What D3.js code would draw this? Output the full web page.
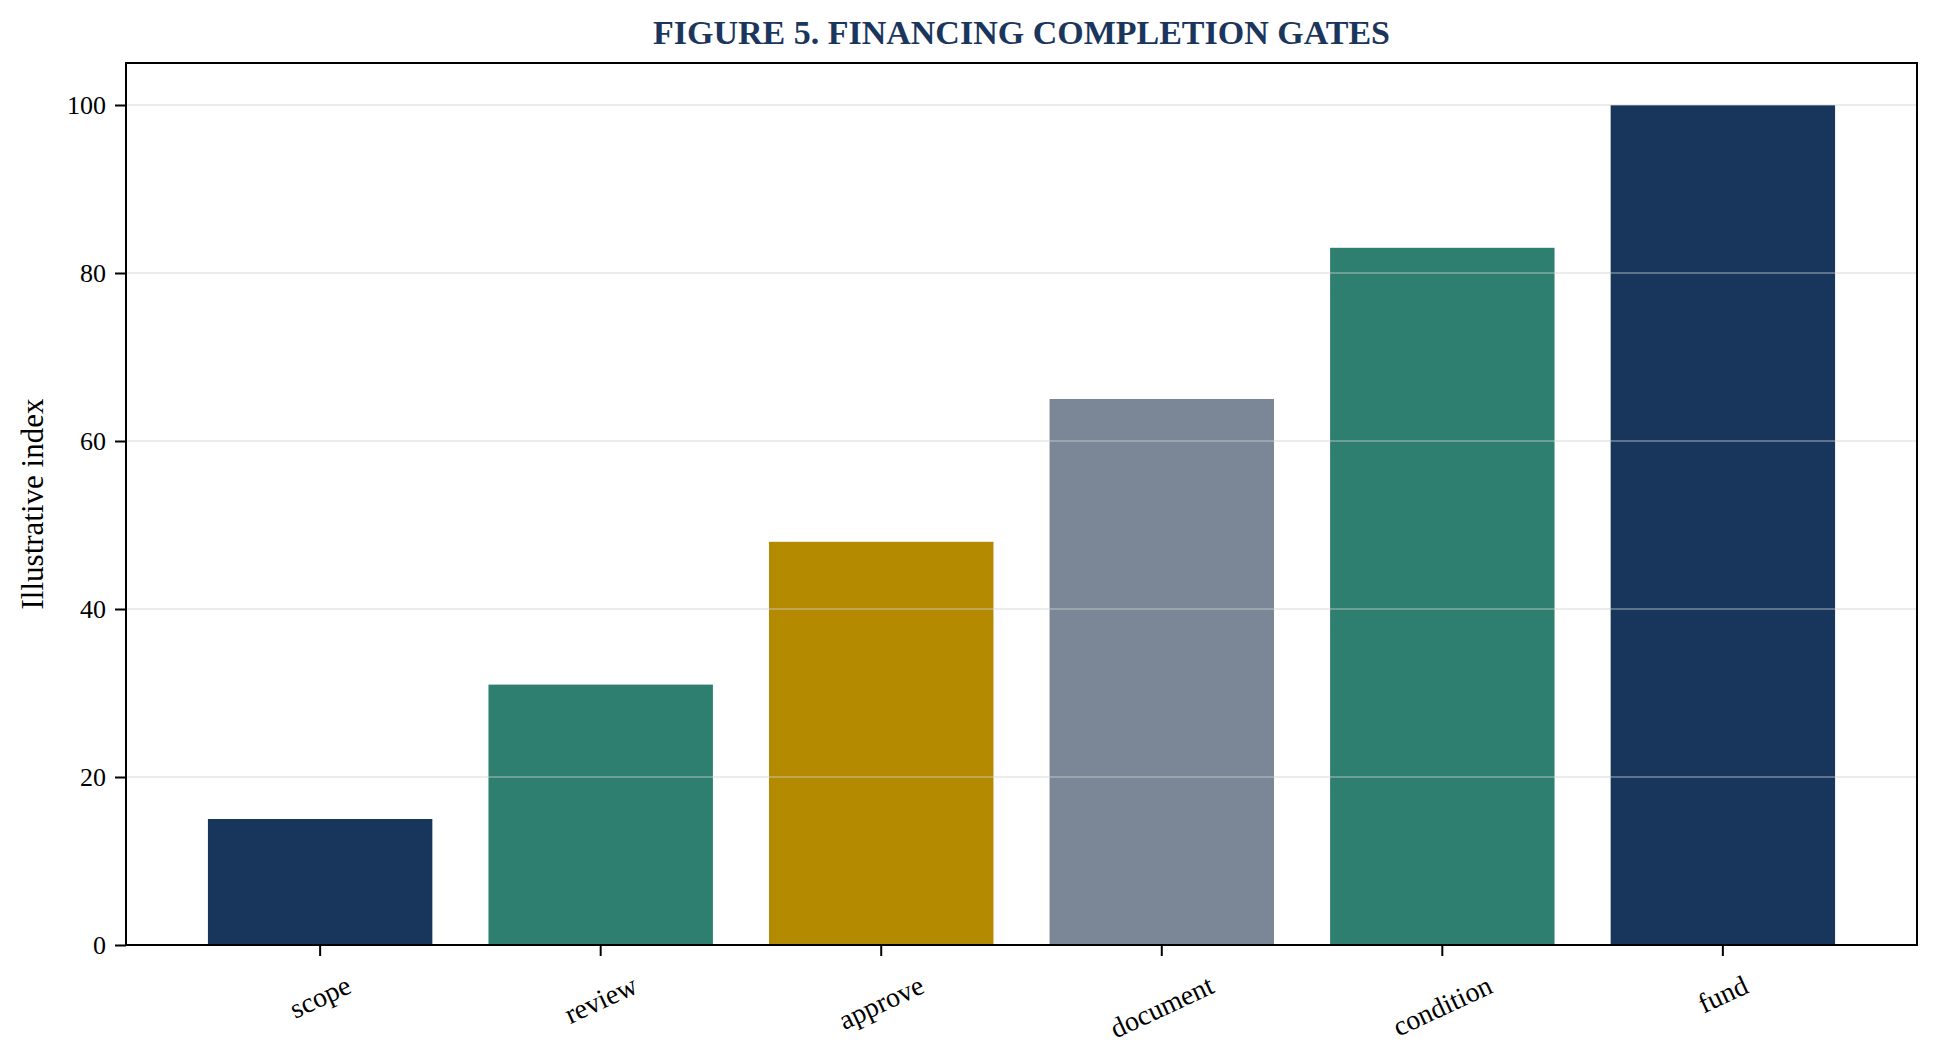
<!DOCTYPE html>
<html>
<head>
  <meta charset="utf-8">
  <title>Financing completion gates</title>
  <style type="text/css">
    body { margin: 0; background: #fff; }
    svg text { font-family: "Liberation Serif", "Times New Roman", serif; fill: #000; }
    .title { font-weight: bold; fill: #1b365d; }
  </style>
</head>
<body>
  <div id="chart"></div>

  <script type="text/javascript" src="https://cdnjs.cloudflare.com/ajax/libs/d3/7.8.5/d3.min.js"></script>
  <script type="text/javascript">
  // data
  var gates = ['scope', 'review', 'approve', 'document', 'condition', 'fund'];
  var indexValues = [15, 31, 48, 65, 83, 100];
  var barColors = ['#18365c', '#2e7f6f', '#b38a00', '#7b8796', '#2e7f6f', '#18365c'];
  var yTicks = [0, 20, 40, 60, 80, 100];

  var cfg = {
    w: 1938,
    h: 1053,
    left: 126,
    right: 1917,
    top: 63,
    bottom: 945
  }

  var svg = d3.select('#chart').append('svg')
    .attr('width', cfg.w)
    .attr('height', cfg.h)

  var xSc = d3.scaleBand()
    .domain(gates)
    .range([cfg.left, cfg.right])
    .paddingInner(0.2)
    .paddingOuter(0.292)

  var ySc = d3.scaleLinear()
    .domain([0, 105])
    .range([cfg.bottom, cfg.top])

  // bars
  svg.append('g').selectAll('rect')
    .data(gates)
    .enter()
    .append('rect')
    .attr('x', function(d) { return xSc(d) })
    .attr('width', xSc.bandwidth())
    .attr('y', function(d, i) { return ySc(indexValues[i]) })
    .attr('height', function(d, i) { return cfg.bottom - ySc(indexValues[i]) })
    .style('fill', function(d, i) { return barColors[i] })

  // grid sits over the bars, faintly
  svg.append('g').selectAll('line')
    .data(yTicks.slice(1))
    .enter()
    .append('line')
    .attr('x1', cfg.left)
    .attr('x2', cfg.right)
    .attr('y1', function(d) { return ySc(d) })
    .attr('y2', function(d) { return ySc(d) })
    .style('stroke', '#d0d0d0')
    .style('stroke-opacity', 0.4)
    .style('stroke-width', 2)

  // y axis
  var yAxis = d3.axisLeft(ySc)
    .tickValues(yTicks)
    .tickSize(11)
    .tickPadding(9)
    .tickFormat(d3.format('d'))

  var yG = svg.append('g')
    .attr('transform', 'translate(' + cfg.left + ',0)')
    .call(yAxis)
  yG.select('.domain').remove()
  yG.selectAll('.tick line').style('stroke', '#000').style('stroke-width', 2)
  yG.selectAll('.tick text')
    .style('font-size', '26px')
    .style('font-family', '"Liberation Serif", serif')

  // x axis
  var xAxis = d3.axisBottom(xSc)
    .tickSize(11)
    .tickSizeOuter(0)

  var xG = svg.append('g')
    .attr('transform', 'translate(0,' + cfg.bottom + ')')
    .call(xAxis)
  xG.select('.domain').remove()
  xG.selectAll('.tick line').style('stroke', '#000').style('stroke-width', 2)

  // rotated labels, bbox centred under tick
  var ang = 25 * Math.PI / 180
  var labelTop = 27
  var labelSize = 28
  xG.selectAll('.tick text')
    .style('font-size', labelSize + 'px')
    .style('font-family', '"Liberation Serif", serif')
    .attr('text-anchor', 'middle')
    .attr('dominant-baseline', 'central')
    .attr('dy', null)
    .each(function() {
      var len = this.getComputedTextLength()
      var bh = len * Math.sin(ang) + labelSize * 0.9 * Math.cos(ang)
      d3.select(this)
        .attr('y', null)
        .attr('transform', 'translate(0,' + (labelTop + bh / 2) + ') rotate(-25)')
    })

  // frame
  svg.append('rect')
    .attr('x', cfg.left)
    .attr('y', cfg.top)
    .attr('width', cfg.right - cfg.left)
    .attr('height', cfg.bottom - cfg.top)
    .style('fill', 'none')
    .style('stroke', '#000')
    .style('stroke-width', 2)

  // y label
  svg.append('text')
    .attr('transform', 'translate(43,' + ((cfg.top + cfg.bottom) / 2) + ') rotate(-90)')
    .attr('text-anchor', 'middle')
    .style('font-size', '31px')
    .text('Illustrative index')

  // title
  svg.append('text')
    .classed('title', true)
    .attr('x', (cfg.left + cfg.right) / 2)
    .attr('y', 44)
    .attr('text-anchor', 'middle')
    .style('font-size', '34px')
    .text('FIGURE 5. FINANCING COMPLETION GATES')
  </script>
</body>
</html>
